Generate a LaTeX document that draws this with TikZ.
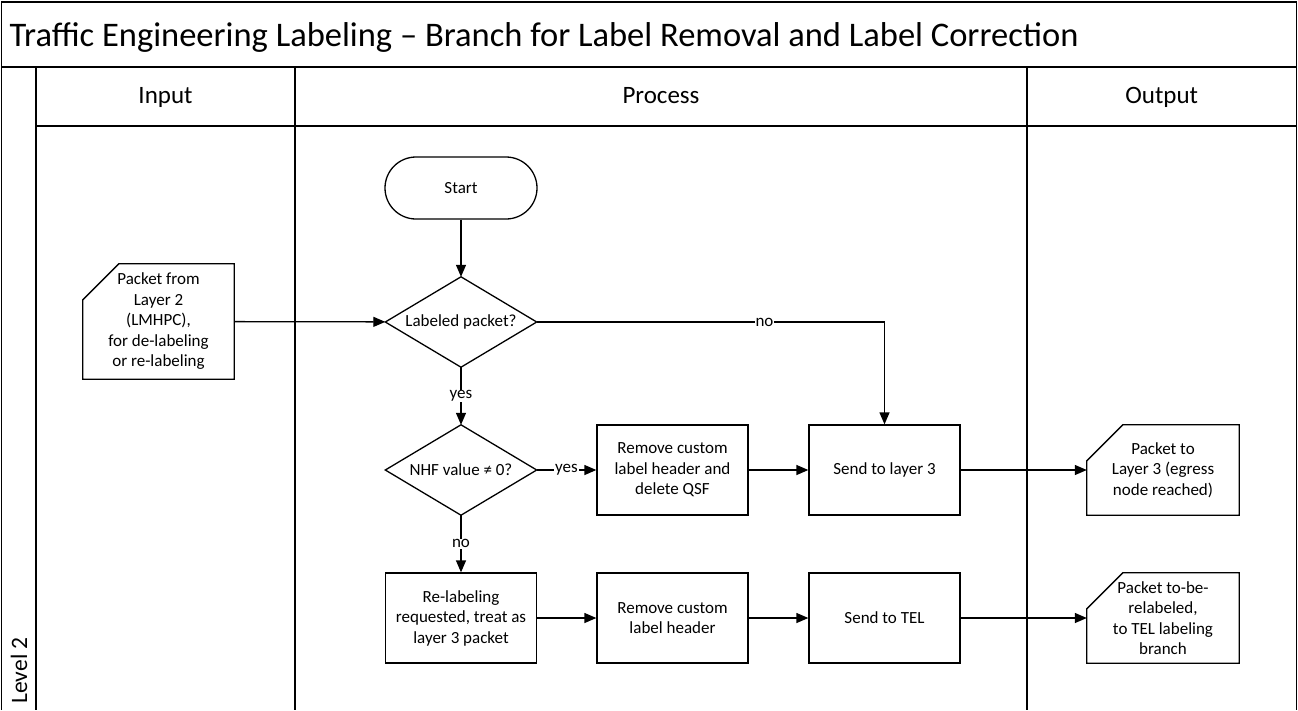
\documentclass[tikz,border=0pt]{standalone}
\usepackage{fontspec}
\setmainfont{Carlito}
\usetikzlibrary{arrows.meta,calc}
\begin{document}
\begin{tikzpicture}[x=1pt,y=-1pt,
  lane/.style={line width=1.6pt},
  txt/.style={font=\fontsize{17}{20.5}\selectfont},
  stepbox/.style={txt,draw,line width=1.3pt,minimum width=151pt,minimum height=90pt,inner sep=0pt,align=center},
  docbox/.style={txt,minimum width=152pt,minimum height=90pt,inner sep=0pt,align=center},
  decision/.style={txt,minimum width=151pt,minimum height=90pt,inner sep=0pt,align=center},
  terminal/.style={txt,draw,line width=1.3pt,rounded corners=31pt,minimum width=152pt,minimum height=62pt,inner sep=0pt},
  flow/.style={line width=1.3pt,-{Triangle[length=12pt,width=10pt]}},
  lbl/.style={txt,fill=white,inner sep=1pt},
  header/.style={font=\fontsize{25}{29}\selectfont}
]
\useasboundingbox (0,0) rectangle (1298,710);

% swimlane frame
\draw[lane] (1.5,710) -- (1.5,2) -- (1296.5,2) -- (1296.5,710);
\draw[lane] (1.5,67) -- (1296.5,67);
\draw[lane] (36,126) -- (1296.5,126);
\draw[lane] (36,67) -- (36,710);
\draw[lane] (295,67) -- (295,710);
\draw[lane] (1027,67) -- (1027,710);

\node[anchor=base west,font=\fontsize{34.5}{38}\selectfont] (title) at (6,46)
  {Traffic Engineering Labeling -- Branch for Label Removal and Label Correction};
\node[header,anchor=base] (hin) at (165.5,103) {Input};
\node[header,anchor=base] (hproc) at (661,103) {Process};
\node[header,anchor=base] (hout) at (1161.75,103) {Output};
\node[font=\fontsize{23.5}{27}\selectfont,rotate=90,anchor=west] (lvl) at (19,707) {Level 2};

% input and output documents
\node[docbox,minimum height=115pt,minimum width=151pt] (in1) at (158.5,321.5)
  {Packet from\\Layer 2\\(LMHPC),\\for de-labeling\\or re-labeling};
\node[docbox] (out1) at (1163,470) {Packet to\\Layer 3 (egress\\node reached)};
\node[docbox] (out2) at (1163,618) {Packet to-be-\\relabeled,\\to TEL labeling\\branch};
\foreach \d in {in1,out1,out2}{
  \draw[line width=1.3pt] ($(\d.north west)+(36,0)$) -- (\d.north east) -- (\d.south east)
    -- (\d.south west) -- ($(\d.north west)+(0,36)$) -- cycle;
}

% process steps
\node[terminal] (start) at (461,188) {Start};
\node[decision] (dec1) at (461,322) {Labeled packet?};
\node[decision] (dec2) at (461,470) {NHF value ≠ 0?};
\foreach \d in {dec1,dec2}{
  \draw[line width=1.3pt] (\d.north) -- (\d.east) -- (\d.south) -- (\d.west) -- cycle;
}
\node[stepbox] (strip) at (672.5,470) {Remove custom\\label header and\\delete QSF};
\node[stepbox] (send3) at (884.5,470) {Send to layer 3};
\node[stepbox] (relab) at (461,618) {Re-labeling\\requested, treat as\\layer 3 packet};
\node[stepbox] (strip2) at (672.5,618) {Remove custom\\label header};
\node[stepbox] (sendtel) at (884.5,618) {Send to TEL};

% connectors
\draw[flow] (start) -- (dec1);
\draw[flow] (in1) -- (dec1);
\draw[flow] (dec1.east) -- (send3.north |- dec1.east)
  node[lbl,pos=0.655] (lno) {no} -- (send3.north);
\draw[flow] (dec1) -- node[lbl] (lyes) {yes} (dec2);
\draw[flow] (dec2) -- node[lbl,pos=0.5] (lyes2) {yes} (strip);
\draw[flow] (dec2) -- node[lbl] (lno2) {no} (relab);
\draw[flow] (strip) -- (send3);
\draw[flow] (send3) -- (out1);
\draw[flow] (relab) -- (strip2);
\draw[flow] (strip2) -- (sendtel);
\draw[flow] (sendtel) -- (out2);
\end{tikzpicture}
\end{document}
